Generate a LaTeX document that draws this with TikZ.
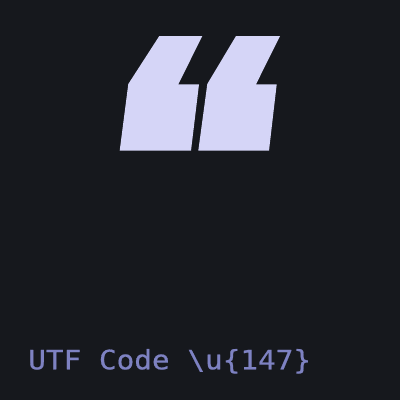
\documentclass[tikz,border=0pt]{standalone}
\usepackage{fontspec}
\newfontfamily\codefont[FakeStretch=1.10,FakeBold=0.6]{DejaVu Sans Mono}
\definecolor{bg}{HTML}{16181D}
\definecolor{glyph}{HTML}{D5D5F7}
\definecolor{label}{HTML}{7E82C2}
\begin{document}
\begin{tikzpicture}[x=1pt,y=-1pt,
  quotepart/.style={fill=glyph,draw=none},
  caption/.style={inner sep=0pt,anchor=base west,text=label,font=\codefont\fontsize{26.7}{30}\selectfont}]
\fill[bg] (0,0) rectangle (400,400);
\useasboundingbox (0,0) rectangle (400,400);
% left quote
\fill[quotepart] (159.3,36) -- (202.3,36) -- (178.3,84.3) -- (199,84.3) -- (191,150.7) -- (119.7,150.7) -- (128.3,84) -- cycle;
% right quote
\fill[quotepart] (236,36) -- (280,36) -- (256,84.3) -- (276.7,84.3) -- (269,150.7) -- (198.3,150.7) -- (207.3,84) -- cycle;
\node[caption] (cap) at (28,369.3) {UTF Code \textbackslash u\{147\}};
\end{tikzpicture}
\end{document}
